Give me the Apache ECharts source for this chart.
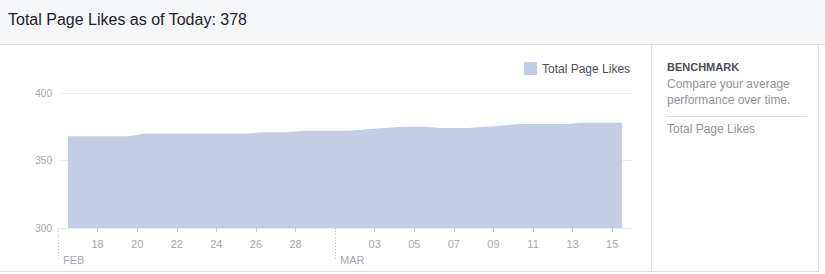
<!DOCTYPE html>
<html>
<head>
<meta charset="utf-8">
<script src="https://cdn.jsdelivr.net/npm/echarts@6/dist/echarts.min.js"></script>
<style>
  html, body { margin: 0; padding: 0; width: 825px; height: 274px; overflow: hidden; background: #fff;
    font-family: "Liberation Sans", Arial, Helvetica, sans-serif; }
  #header { position: absolute; left: 0; top: 0; width: 825px; height: 45px; background: #f6f7f9;
    border-bottom: 1px solid #dddfe2; box-sizing: border-box; }
  #title { position: absolute; left: 8px; top: 10px; font-size: 16px; line-height: 20px; color: #1d2129; }
  #divider { position: absolute; left: 651px; top: 45px; width: 1px; height: 227px; background: #dddfe2; }
  #rborder { position: absolute; left: 818px; top: 45px; width: 1px; height: 227px; background: #dddfe2; }
  #bborder { position: absolute; left: 0; top: 271px; width: 819px; height: 1px; background: #dddfe2; }
  #panel { position: absolute; left: 667px; top: 60px; width: 141px; }
  #bm { font-size: 11px; font-weight: bold; color: #4b4f56; line-height: 14px; }
  #desc { font-size: 12px; color: #90949c; line-height: 16px; margin-top: 2px; }
  #sep { position: absolute; left: 666px; top: 116px; width: 141px; height: 1px; background: #dddfe2; }
  #metric { position: absolute; left: 667px; top: 121px; font-size: 12px; line-height: 16px; color: #90949c; }
  #chart { position: absolute; left: 0; top: 0; width: 825px; height: 274px; }
</style>
</head>
<body>
<div id="header"><div id="title">Total Page Likes as of Today: 378</div></div>
<div id="divider"></div>
<div id="rborder"></div>
<div id="bborder"></div>
<div id="panel">
  <div id="bm">BENCHMARK</div>
  <div id="desc">Compare your average<br>performance over time.</div>
</div>
<div id="sep"></div>
<div id="metric">Total Page Likes</div>
<div id="chart"></div>
<script>
// Days counted from Feb 1 2016 (Feb 29 = 29, Mar 1 = 30); each value sits mid-day.
const days = [16,17,18,19,20,21,22,23,24,25,26,27,28,29,30,31,32,33,34,35,36,37,38,39,40,41,42,43,44];
const likes = [368,368,368,368,370,370,370,370,370,370,371,371,372,372,372,373,374,375,375,374,374,375,376,377,377,377,378,378,378];
const tickDays = [18,20,22,24,26,28,32,34,36,38,40,42,44];
const tickLabels = ['18','20','22','24','26','28','03','05','07','09','11','13','15'];
const monthDays = [16,30];
const monthLabels = ['FEB','MAR'];
const seriesName = 'Total Page Likes';

const chart = echarts.init(document.getElementById('chart'), null, { renderer: 'svg' });
const data = days.map((d, i) => [d + 0.5, likes[i]]);
chart.setOption({
  animation: false,
  textStyle: { fontFamily: '"Liberation Sans", Arial, Helvetica, sans-serif' },
  legend: {
    data: [{ name: seriesName, icon: 'rect' }],
    left: 519, top: 57, itemWidth: 13, itemHeight: 13, itemGap: 10,
    textStyle: { color: '#4b4f56', fontSize: 12 }
  },
  grid: { left: 58, right: 193, top: 93, bottom: 46, containLabel: false },
  xAxis: [{
    type: 'value', min: 16, max: 45, interval: 2,
    axisLine: { show: true, lineStyle: { color: '#e6e8eb', width: 1 } },
    axisTick: { show: true, customValues: tickDays, length: 4, lineStyle: { color: '#c4c7cc' } },
    axisLabel: { show: true, customValues: tickDays, margin: 10, color: '#a3a7ae', fontSize: 11,
      formatter: v => tickLabels[tickDays.indexOf(v)] },
    splitLine: { show: false }
  }, {
    type: 'value', min: 16, max: 45, position: 'bottom',
    axisLine: { show: false },
    axisTick: { show: true, customValues: monthDays, length: 33,
      lineStyle: { color: '#bfc3c8', type: [1, 2], width: 1 } },
    axisLabel: { show: true, customValues: monthDays, margin: 26, align: 'left', padding: [0, 0, 0, 5],
      color: '#a3a7ae', fontSize: 11, formatter: v => monthLabels[monthDays.indexOf(v)] },
    splitLine: { show: false }
  }],
  yAxis: {
    type: 'value', min: 300, max: 400, interval: 50,
    axisLine: { show: false }, axisTick: { show: false },
    axisLabel: { color: '#a3a7ae', fontSize: 10, margin: 6 },
    splitLine: { lineStyle: { color: '#eceef1', width: 1 } }
  },
  series: [{
    name: seriesName, type: 'line', xAxisIndex: 0, data: data,
    smooth: 0.3, showSymbol: false, symbol: 'none',
    itemStyle: { color: '#c5cde4' },
    lineStyle: { width: 0, color: '#c5cde4' },
    areaStyle: { color: '#c5cde4', opacity: 1 }
  }]
});
</script>
</body>
</html>
